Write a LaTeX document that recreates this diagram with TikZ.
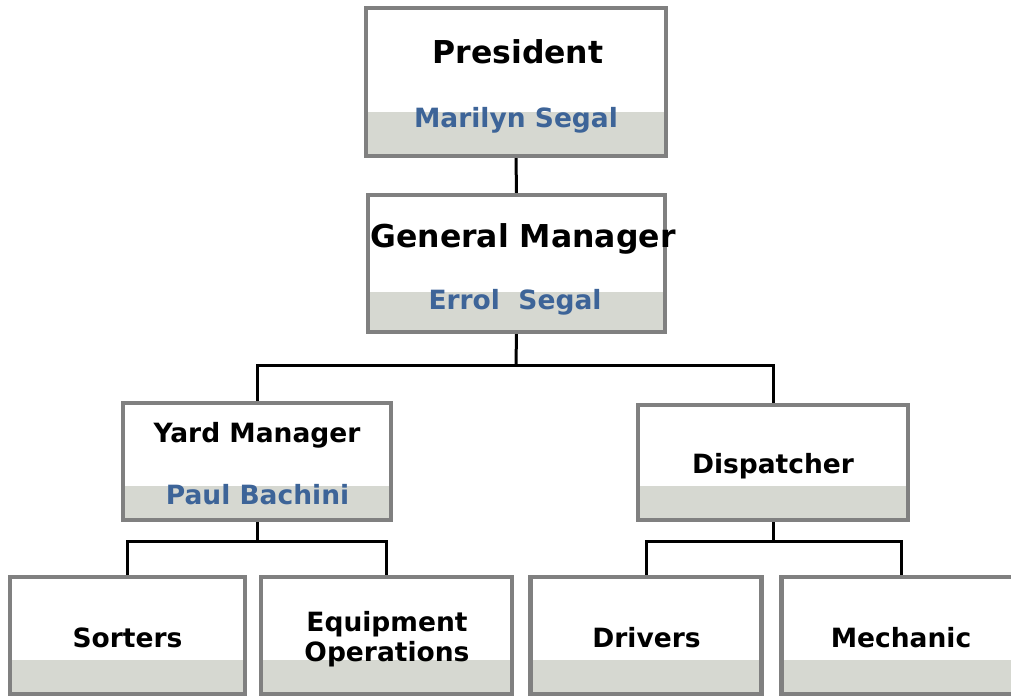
\documentclass[tikz,border=0pt]{standalone}
\usepackage{fontspec}
\setmainfont{DejaVu Sans}
\usetikzlibrary{backgrounds}
\definecolor{boxgray}{HTML}{808080}
\definecolor{bandgray}{HTML}{D6D8D1}
\definecolor{nameblue}{HTML}{3D6498}
\tikzset{
  box/.style={draw=boxgray, line width=4.5pt, fill=white, outer sep=0pt, inner sep=0pt,
    path picture={\fill[bandgray] ([yshift=#1]path picture bounding box.south west) rectangle (path picture bounding box.south east);}},
  role/.style={font=\fontsize{26.5}{30}\selectfont\bfseries, anchor=base, inner sep=0pt, text=black},
  bigrole/.style={role, font=\fontsize{31.5}{36}\selectfont\bfseries},
  person/.style={role, text=nameblue},
  link/.style={line width=3pt, black}
}
\begin{document}
\begin{tikzpicture}[x=1pt,y=-1pt]
\useasboundingbox (0,0) rectangle (1011,696);
\coordinate (bar1) at (516,365);
\coordinate (bar2) at (257,541);
\coordinate (bar3) at (773,541);
\node[box=44pt, minimum width=300pt, minimum height=148pt] (pres) at (516,82) {};
\node[box=40pt, minimum width=297pt, minimum height=137pt] (gm) at (516.5,263.5) {};
\node[box=34pt, minimum width=268pt, minimum height=117pt] (yard) at (257,461.5) {};
\node[box=34pt, minimum width=270pt, minimum height=115pt] (disp) at (773,462.5) {};
\node[box=34pt, minimum width=235pt, minimum height=117pt] (sort) at (127.5,635.5) {};
\node[box=34pt, minimum width=251pt, minimum height=117pt] (equip) at (386.5,635.5) {};
\node[box=34pt, minimum width=231pt, minimum height=117pt] (drv) at (646,635.5) {};
\node[box=34pt, minimum width=240pt, minimum height=117pt] (mech) at (901.5,635.5) {};
\begin{scope}[on background layer]
\draw[link] (pres.south) -- (gm.north);
\draw[link] (gm.south) -- (bar1);
\draw[link] (bar1) -| (yard.north);
\draw[link] (bar1) -| (disp.north);
\draw[link] (yard.south) -- (bar2);
\draw[link] (bar2) -| (sort.north);
\draw[link] (bar2) -| (equip.north);
\draw[link] (disp.south) -- (bar3);
\draw[link] (bar3) -| (drv.north);
\draw[link] (bar3) -| (mech.north);
\end{scope}
\node[bigrole] (t1) at (518,63) {President};
\node[person] (n1) at (516,127) {Marilyn Segal};
\node[bigrole] (t2) at (523,247) {General Manager};
\node[person] (n2) at (515,309) {Errol\ \ Segal};
\node[role] (t3) at (257,442) {Yard Manager};
\node[person] (n3) at (257.5,504) {Paul Bachini};
\node[role] (t4) at (773,473) {Dispatcher};
\node[role] (t5) at (127.5,647) {Sorters};
\node[role, align=center] (t6) at (387,661) {Equipment\\Operations};
\node[role] (t7) at (646.5,647) {Drivers};
\node[role] (t8) at (901,647) {Mechanic};
\end{tikzpicture}
\end{document}
